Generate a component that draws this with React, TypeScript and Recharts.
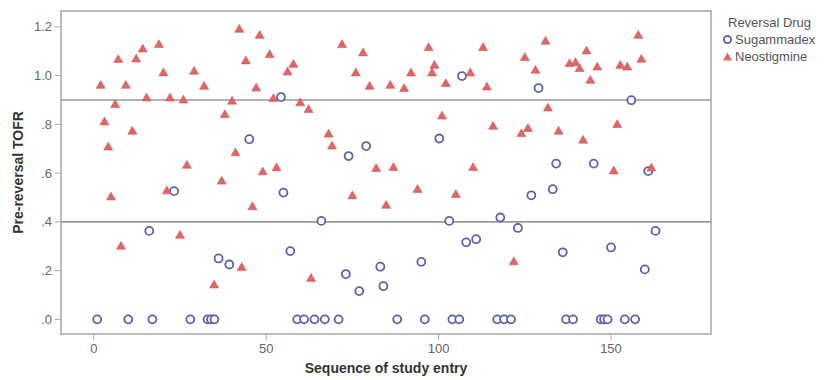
import { ScatterChart, Scatter, XAxis, YAxis, ReferenceLine, ReferenceArea } from 'recharts'

// Sugammadex: sequence of entry and pre-reversal TOFR
const sugammadexSeq = [
  1, 10, 17, 28, 33, 34, 35, 59, 61, 64, 67, 71, 88, 96, 104, 106, 117, 119, 121, 137, 139, 147, 148, 149, 154, 157,
  16.1, 23.3, 36.2, 39.3, 45.1, 54.3, 55, 57, 66, 73.1, 73.9, 77, 79, 83.1, 84, 95, 100.2, 103.1, 106.8, 108, 110.9,
  117.9, 123, 126.9, 129, 133.1, 134.1, 136, 145, 150, 155.9, 159.8, 160.8, 162.9,
]
const sugammadexTofr = [
  0, 0, 0, 0, 0, 0, 0, 0, 0, 0, 0, 0, 0, 0, 0, 0, 0, 0, 0, 0, 0, 0, 0, 0, 0, 0,
  0.363, 0.526, 0.25, 0.225, 0.739, 0.912, 0.52, 0.28, 0.404, 0.186, 0.67, 0.116, 0.711, 0.216, 0.136, 0.236, 0.742,
  0.404, 0.998, 0.316, 0.329, 0.418, 0.375, 0.509, 0.949, 0.534, 0.639, 0.275, 0.639, 0.295, 0.899, 0.205, 0.608, 0.363,
]

// Neostigmine
const neostigmineSeq = [
  2, 3.1, 4.2, 5, 6.2, 7.1, 7.9, 9.3, 11.2, 12.3, 14.2, 15.3, 18.9, 20.2, 21.2, 22.1, 25, 26, 27, 29.1, 32, 34.9,
  37.1, 38, 40.1, 41.1, 42.2, 42.9, 44.1, 46, 47.1, 48.1, 49, 51, 52.1, 53, 56.2, 57.9, 59.9, 62.3, 63, 68.1, 69.1,
  72, 75, 76, 78.1, 80, 81.9, 84.8, 86, 86.9, 90, 92, 93.9, 97.1, 98.1, 98.8, 101, 102.1, 105, 109.2, 110, 112.9,
  114, 115.8, 121.8, 124, 125, 125.9, 128.1, 131, 131.7, 134.8, 138, 139.7, 140.9, 141.9, 142.9, 144, 146, 150.8,
  151.8, 152.7, 154.7, 157.9, 158.8, 161.7,
]
const neostigmineTofr = [
  0.96, 0.81, 0.707, 0.502, 0.881, 1.066, 0.3, 0.96, 0.772, 1.068, 1.109, 0.908, 1.127, 1.011, 0.527, 0.908, 0.345,
  0.9, 0.632, 1.018, 0.956, 0.141, 0.567, 0.84, 0.895, 0.683, 1.19, 0.213, 1.06, 0.462, 0.949, 1.165, 0.605, 1.086,
  0.906, 0.622, 1.015, 1.046, 0.888, 0.861, 0.168, 0.76, 0.711, 1.127, 0.507, 1.011, 1.093, 0.956, 0.619, 0.468,
  0.96, 0.623, 0.947, 1.011, 0.533, 1.115, 1.011, 1.042, 0.834, 0.967, 0.512, 1.011, 0.623, 1.115, 0.953, 0.792,
  0.236, 0.762, 1.074, 0.783, 1.022, 1.141, 0.867, 0.772, 1.049, 1.053, 1.029, 0.735, 1.101, 0.981, 1.035, 0.609,
  0.799, 1.042, 1.035, 1.165, 1.067, 0.621,
]

const xTicks = [0, 50, 100, 150]
const yTicks = [0, 0.2, 0.4, 0.6, 0.8, 1.0, 1.2]
const cutoffs = [0.4, 0.9]

const sugammadexData = sugammadexSeq.map((x, i) => ({ seq: x, tofr: sugammadexTofr[i] }))
const neostigmineData = neostigmineSeq.map((x, i) => ({ seq: x, tofr: neostigmineTofr[i] }))

const BLUE = '#5a62a8'
const RED = '#e06666'
const FONT = '"Liberation Sans", Arial, sans-serif'

const formatY = (v: number) => (v >= 1 ? v.toFixed(1) : v.toFixed(1).replace(/^0/, ''))

const CircleShape = (props: any) => (
  <circle cx={props.cx} cy={props.cy} r={4} fill="#fff" stroke={BLUE} strokeWidth={1.8} />
)

const TriangleShape = (props: any) => {
  const { cx, cy } = props
  const s = 9
  const h = s * 0.866
  return (
    <polygon
      points={`${cx},${cy - h * 0.62} ${cx - s / 2},${cy + h * 0.38} ${cx + s / 2},${cy + h * 0.38}`}
      fill={RED}
      stroke="#d25858"
      strokeWidth={0.6}
    />
  )
}

export default function App() {
  return (
    <div style={{ position: 'absolute', left: 0, top: 0, width: 825, height: 380, background: '#fff', fontFamily: FONT }}>
      <ScatterChart width={825} height={380} margin={{ top: 11, right: 114, bottom: 16, left: 21 }}>
        <XAxis
          type="number"
          dataKey="seq"
          domain={[-9.5, 179]}
          ticks={xTicks}
          allowDataOverflow
          height={30}
          tickSize={6}
          tickMargin={4}
          axisLine={false}
          tickLine={{ stroke: '#aaa' }}
          tick={{ fill: '#666', fontSize: 13, fontFamily: FONT }}
          label={{ value: 'Sequence of study entry', position: 'bottom', offset: -1, fill: '#333', fontSize: 14, fontWeight: 'bold', fontFamily: FONT }}
        />
        <YAxis
          type="number"
          dataKey="tofr"
          domain={[-0.06, 1.265]}
          ticks={yTicks}
          allowDataOverflow
          width={40}
          tickSize={6}
          tickMargin={3}
          axisLine={false}
          tickLine={{ stroke: '#aaa' }}
          tickFormatter={formatY}
          tick={{ fill: '#666', fontSize: 13, fontFamily: FONT }}
          label={{ value: 'Pre-reversal TOFR', angle: -90, position: 'insideLeft', offset: -3, style: { textAnchor: 'middle' }, fill: '#333', fontSize: 14, fontWeight: 'bold', fontFamily: FONT }}
        />
        <ReferenceArea x1={-9.5} x2={179} y1={-0.06} y2={1.265} fill="none" stroke="#bbb" strokeWidth={2} ifOverflow="visible" />
        {cutoffs.map((c) => (
          <ReferenceLine key={c} y={c} stroke="#999" strokeWidth={1.6} />
        ))}
        <Scatter name="Sugammadex" data={sugammadexData} shape={CircleShape} isAnimationActive={false} />
        <Scatter name="Neostigmine" data={neostigmineData} shape={TriangleShape} isAnimationActive={false} />
      </ScatterChart>
      <div style={{ position: 'absolute', left: 722, top: 14, fontSize: 13, color: '#555', lineHeight: '17px' }}>
        <div style={{ paddingLeft: 6 }}>Reversal Drug</div>
        <div style={{ display: 'flex', alignItems: 'center' }}>
          <svg width={11} height={11} style={{ marginRight: 2 }}>
            <circle cx={5.5} cy={5.5} r={3.6} fill="#fff" stroke={BLUE} strokeWidth={1.8} />
          </svg>
          Sugammadex
        </div>
        <div style={{ display: 'flex', alignItems: 'center' }}>
          <svg width={11} height={11} style={{ marginRight: 2 }}>
            <polygon points="5.5,1.5 1,9.5 10,9.5" fill={RED} />
          </svg>
          Neostigmine
        </div>
      </div>
    </div>
  )
}
